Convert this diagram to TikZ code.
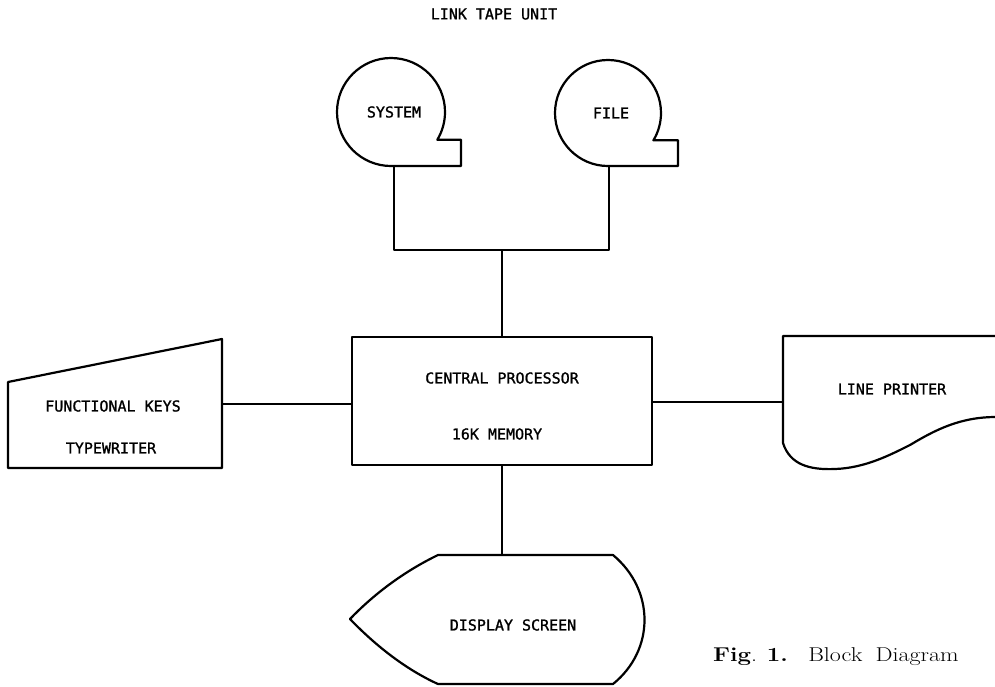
\documentclass[tikz,border=0pt]{standalone}
\usepackage{fontspec}
\newfontfamily\lettering[FakeBold=1.2]{DejaVu Sans Mono}
\begin{document}
\begin{tikzpicture}[x=1pt,y=-1pt,line join=round,
        rule/.style={line width=2.2pt},
        lbl/.style={font=\lettering\fontsize{15}{18}\selectfont,inner sep=0pt},
        unit/.style={rule,draw,minimum width=300pt,minimum height=128pt}]
            \useasboundingbox (0,0) rectangle (995,686);
            \node[lbl] (title) at (494,14) {LINK TAPE UNIT};
            % tape units
            \foreach \x/\y/\r/\n/\t in {391/112/54/sys/SYSTEM,608/113/53/file/FILE}
            {
                \draw[rule] (\x,\y+\r) arc[start angle=90,end angle=391,radius=\r]
                    -- (\x+70,\y+\r*0.515) -- (\x+70,\y+\r) -- cycle;
                \node[lbl] (\n) at (\x+3,\y) {\t};
            }
            \coordinate (sysout) at (394,166);
            \coordinate (fileout) at (609,166);
            \coordinate (bus) at (502,250);
            % central processor
            \node[unit] (cpu) at (502,401) {};
            \node[lbl] (cpu1) at (502,378) {CENTRAL PROCESSOR};
            \node[lbl] (cpu2) at (497,434) {16K MEMORY};
            % typewriter
            \draw[rule] (8,382) -- (222,339) -- (222,468) -- (8,468) -- cycle;
            \node[lbl] (keys1) at (113,406) {FUNCTIONAL KEYS};
            \node[lbl] (keys2) at (111,448) {TYPEWRITER};
            \coordinate (keysout) at (222,404);
            % line printer
            \draw[rule] (996,336) -- (783,336) -- (783,443)
                .. controls (790,465) and (810,470) .. (835,469)
                .. controls (865,468) and (890,455) .. (910,445)
                .. controls (935,430) and (960,417) .. (996,417);
            \node[lbl] (printer) at (892,389) {LINE PRINTER};
            \coordinate (printin) at (783,402);
            % display screen
            \draw[rule] (438,555) -- (613,555)
                .. controls (655,590) and (655,650) .. (613,684)
                -- (438,684)
                .. controls (405,669) and (375,645) .. (350,619)
                .. controls (375,593) and (405,571) .. (438,555) -- cycle;
            \node[lbl] (screen) at (513,625) {DISPLAY SCREEN};
            \coordinate (screenin) at (502,555);
            % connections
            \draw[rule] (sysout) |- (bus) -| (fileout);
            \draw[rule] (bus) -- (cpu.north);
            \draw[rule] (keysout) -- (cpu.west |- keysout);
            \draw[rule] (cpu.east |- printin) -- (printin);
            \draw[rule] (cpu.south) -- (screenin);
            \node[anchor=west,inner sep=0pt] (caption) at (713,657) {\scalebox{1.2}[1]{\fontsize{20}{24}\selectfont\textbf{Fig}. \textbf{1.}\hspace{17pt}Block\hspace{11pt}Diagram}};
\end{tikzpicture}
\end{document}
